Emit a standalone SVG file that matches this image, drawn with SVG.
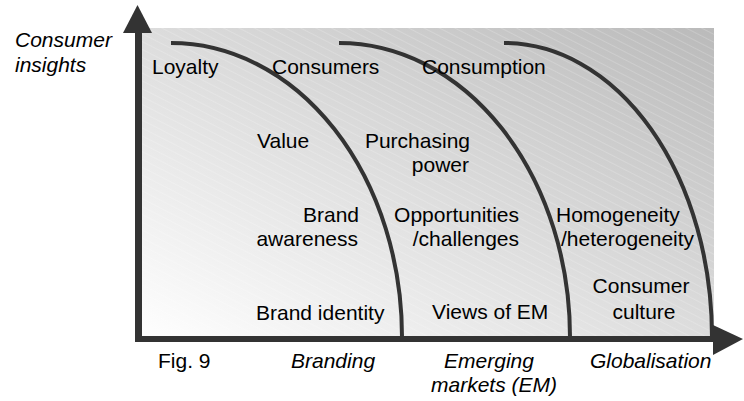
<svg xmlns="http://www.w3.org/2000/svg" width="744" height="401" viewBox="0 0 744 401">
<style>
text{font-family:"Liberation Sans",Arial,sans-serif;font-size:21px;fill:#000}
.it{font-style:italic}
.e{text-anchor:end}
.m{text-anchor:middle}
.curve{fill:none;stroke:#333;stroke-width:4}
.axis{stroke:#333;fill:none}
.head{fill:#333}
</style>
<defs>
<linearGradient id="bg" x1="0" y1="1" x2="1" y2="0">
<stop offset="0" stop-color="#ffffff"/>
<stop offset="1" stop-color="#bababa"/>
</linearGradient>
<pattern id="hatch" width="7" height="7" patternUnits="userSpaceOnUse" patternTransform="rotate(27)">
<line x1="0" y1="0" x2="7" y2="0" stroke="#fff" stroke-width="0.8" stroke-opacity="0.45"/>
</pattern>
</defs>
<g id="background">
<rect x="138" y="28" width="576" height="311" fill="url(#bg)"/>
<rect x="138" y="28" width="576" height="311" fill="url(#hatch)"/>
</g>
<g id="connectors">
<path class="curve" d="M171,43 A231,294 0 0 1 402,337"/>
<path class="curve" d="M339,43 A231,294 0 0 1 570,337"/>
<path class="curve" d="M504,43 A208,294 0 0 1 712,337"/>
<line class="axis" x1="138.5" y1="342" x2="138.5" y2="30" stroke-width="7"/>
<polygon class="head" points="137.5,5 123,33 152,33"/>
<line class="axis" x1="135" y1="339" x2="716" y2="339" stroke-width="6"/>
<polygon class="head" points="743,339 713,325 713,355"/>
</g>
<g id="y-label"><text class="it" x="15" y="47">Consumer</text><text class="it" x="15" y="72">insights</text></g>
<g id="loyalty"><text x="152" y="74">Loyalty</text></g>
<g id="consumers"><text x="272" y="74">Consumers</text></g>
<g id="consumption"><text x="422" y="74">Consumption</text></g>
<g id="value"><text x="257" y="148">Value</text></g>
<g id="purchasing-power"><text class="e" x="470" y="148">Purchasing</text><text class="e" x="469" y="172">power</text></g>
<g id="brand-awareness"><text class="e" x="359" y="222">Brand</text><text class="e" x="358" y="246">awareness</text></g>
<g id="opportunities"><text class="e" x="519" y="222">Opportunities</text><text class="e" x="519" y="246">/challenges</text></g>
<g id="homogeneity"><text x="556" y="222">Homogeneity</text><text x="561" y="246">/heterogeneity</text></g>
<g id="consumer-culture"><text class="m" x="641" y="293">Consumer</text><text class="m" x="644" y="319">culture</text></g>
<g id="brand-identity"><text x="256" y="320">Brand identity</text></g>
<g id="views-of-em"><text x="432" y="319">Views of EM</text></g>
<g id="fig"><text x="158" y="368">Fig. 9</text></g>
<g id="branding"><text class="it" x="291" y="368">Branding</text></g>
<g id="emerging"><text class="it m" x="489" y="368">Emerging</text><text class="it m" x="494" y="392">markets (EM)</text></g>
<g id="globalisation"><text class="it" x="590" y="368">Globalisation</text></g>
</svg>
